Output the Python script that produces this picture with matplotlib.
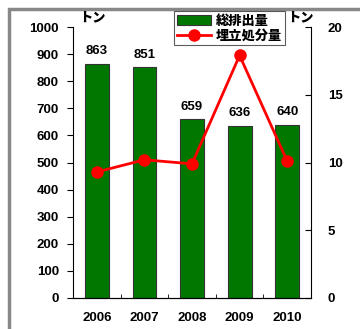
import matplotlib.pyplot as plt
from matplotlib.patches import Rectangle

years = ['2006', '2007', '2008', '2009', '2010']
total = [863, 851, 659, 636, 640]
landfill = [9.3, 10.2, 9.9, 17.9, 10.1]

plt.rcParams['font.family'] = ['Liberation Sans', 'Noto Sans CJK JP']
plt.rcParams['font.weight'] = 'bold'
FS = 9.5

fig = plt.figure(figsize=(3.6, 3.29), dpi=100)
W, H = 360, 329

# gray frame around the picture (only left/top visible)
fig.patches.append(Rectangle((9 / W, -0.5), 1.5, (H - 9) / H + 0.5, transform=fig.transFigure,
                             fill=False, edgecolor='#888888', linewidth=2.5))

ax = fig.add_axes([73 / W, 1 - 298 / H, (311 - 73) / W, (298 - 27) / H])
x = range(len(years))
bars = ax.bar(x, total, 0.5, color='#007800', edgecolor='#333333', linewidth=0.8,
              label='総排出量', zorder=2)
for xi, v in zip(x, total):
    ax.text(xi, v + 25, str(v), ha='center', va='bottom', fontsize=FS, fontweight='bold')

ax.set_xlim(-0.5, 4.5)
ax.set_ylim(0, 1000)
ax.set_yticks(range(0, 1001, 100))
ax.set_xticks(list(x))
ax.set_xticklabels(years)
ax.set_xticks([0.5, 1.5, 2.5, 3.5], minor=True)
ax.tick_params(axis='x', which='major', length=0, pad=10, labelsize=FS)
ax.tick_params(axis='x', which='minor', direction='in', length=3)
ax.tick_params(axis='y', direction='out', length=4, labelsize=FS, pad=6)
ax.spines['top'].set_visible(False)
ax.spines['right'].set_visible(False)

ax2 = ax.twinx()
line, = ax2.plot(list(x), landfill, color='red', linewidth=2, marker='o', markersize=8,
                 label='埋立処分量', zorder=3)
ax2.set_ylim(0, 20)
ax2.set_yticks(range(0, 21, 5))
ax2.tick_params(axis='y', direction='in', length=4, labelsize=FS, pad=12)
ax2.spines['top'].set_visible(False)
ax2.spines['left'].set_visible(False)

fig.text(79 / W, 1 - 17 / H, 'トン', fontsize=FS, fontweight='black',
         family=['Noto Sans CJK JP'], va='center')
fig.text(287 / W, 1 - 17 / H, 'トン', fontsize=FS, fontweight='black',
         family=['Noto Sans CJK JP'], va='center')

leg = fig.legend([bars, line], ['総排出量', '埋立処分量'], loc='upper left',
                 bbox_to_anchor=(174 / W, 1 - 11 / H), frameon=True, fancybox=False,
                 prop={'family': ['Noto Sans CJK JP'], 'weight': 'black', 'size': FS},
                 handlelength=2.6, handletextpad=0.4, borderpad=0.2, labelspacing=0.05,
                 borderaxespad=0)
leg.get_frame().set_edgecolor('#333333')
leg.get_frame().set_linewidth(0.8)

fig.savefig('out.png', dpi=100)
